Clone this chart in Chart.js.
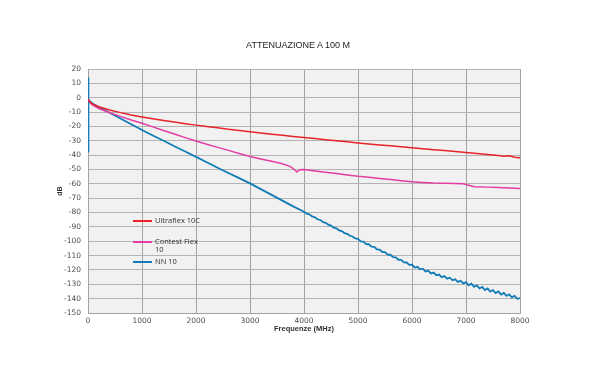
<!DOCTYPE html>
<html>
<head>
<meta charset="utf-8">
<script src="https://cdn.jsdelivr.net/npm/chart.js@4/dist/chart.umd.min.js"></script>
<style>
  body { margin: 0; background: #fff; }
  #wrap { position: relative; width: 600px; height: 378px; }
  #title {
    position: absolute; left: 0; width: 596px; top: 40px; text-align: center;
    font: 9px "Liberation Sans", Arial, sans-serif; color: #222;
  }
  #legend {
    position: absolute; left: 133px; top: 216px;
    font: 7.5px "Open Sans", sans-serif; color: #333; line-height: 8px;
  }
  .item { position: relative; padding-left: 22px; margin-bottom: 4px; }
  .item span { position: absolute; left: 0; top: 4px; width: 19px; height: 2px; }
</style>
</head>
<body>
<div id="wrap">
  <canvas id="chart" width="600" height="378"></canvas>
  <div id="title">ATTENUAZIONE A 100 M</div>
  <div id="legend"></div>
</div>
<script>
// Attenuation curves (dB vs MHz)
const redLabel = 'Ultraflex 10C';
const redFreq = [0, 50, 100, 200, 400, 600, 800, 1000, 1200, 1400, 1600, 1800, 2000, 2200, 2400, 2600, 2800, 3000,
    3200, 3400, 3600, 3800, 4000, 4200, 4400, 4600, 4800, 5000, 5200, 5400, 5600, 5800, 6000, 6200, 6400, 6600,
    6800, 7000, 7200, 7400, 7600, 7700, 7800, 7900, 8000];
const redValues = [-1, -3.6, -4.7, -6.3, -8.6, -10.4, -12.0, -13.4, -14.7, -15.9, -17.0, -18.1, -19.1, -20.1, -21.0,
    -22.0, -22.8, -23.7, -24.6, -25.4, -26.2, -27.0, -27.8, -28.5, -29.3, -30.0, -30.7, -31.5, -32.2, -32.9, -33.5,
    -34.2, -34.9, -35.5, -36.2, -36.8, -37.5, -38.1, -38.8, -39.5, -40.2, -40.8, -40.4, -41.5, -41.8];

const pinkLabel = 'Contest Flex 10';
const pinkFreq = [0, 50, 100, 200, 400, 600, 800, 1000, 1200, 1400, 1600, 1800, 2000, 2200, 2400, 2600, 2800, 3000,
    3200, 3400, 3600, 3750, 3820, 3870, 3920, 4000, 4200, 4400, 4600, 4800, 5000, 5200, 5400, 5600, 5800, 6000,
    6200, 6400, 6600, 6800, 6950, 7050, 7150, 7400, 7600, 7800, 8000];
const pinkValues = [-1, -4, -5.5, -7.5, -10.5, -13, -15.5, -17.8, -20.3, -22.8, -25.3, -27.8, -30.2, -32.4, -34.6,
    -36.7, -38.9, -41, -42.7, -44.3, -46, -48, -50, -51.8, -50.2, -50, -51, -52, -52.8, -53.8, -54.8, -55.5, -56.3,
    -57, -57.8, -58.5, -59, -59.4, -59.6, -59.8, -60, -61, -62, -62.3, -62.6, -62.9, -63.2];

const blueLabel = 'NN 10';
const blueFreq = [0, 5, 10, 50, 100, 200, 400, 600, 800, 1000, 1200, 1400, 1600, 1800, 2000, 2200, 2400, 2600, 2800,
    3000, 3200, 3400, 3600, 3800,
    4000, 4050, 4100, 4150, 4200, 4250, 4300, 4350, 4400, 4450, 4500, 4550, 4600, 4650, 4700, 4750, 4800, 4850, 4900, 4950,
    5000, 5050, 5100, 5150, 5200, 5250, 5300, 5350, 5400, 5450, 5500, 5550, 5600, 5650, 5700, 5750, 5800, 5850, 5900, 5950,
    6000, 6050, 6100, 6150, 6200, 6250, 6300, 6350, 6400, 6450, 6500, 6550, 6600, 6650, 6700, 6750, 6800, 6850, 6900, 6950,
    7000, 7050, 7100, 7150, 7200, 7250, 7300, 7350, 7400, 7450, 7500, 7550, 7600, 7650, 7700, 7750, 7800, 7850, 7900, 7950,
    8000];
const blueValues = [14, -38, -1.5, -3, -4.5, -6.5, -10.5, -14.5, -18.5, -22.5, -26.3, -30, -33.8, -37.5, -41.2, -45,
    -48.8, -52.5, -56, -59.7, -63.7, -67.7, -71.7, -75.7,
    -79.4, -80.8, -81.3, -82.7, -83.3, -84.7, -85.2, -86.6, -87.2, -88.5, -89.1, -90.5, -91.0, -92.4, -92.9, -94.3,
    -94.8, -96.2, -96.7, -98.1,
    -98.4, -100.1, -100.2, -102.0, -102.1, -103.8, -103.9, -105.6, -105.8, -107.5, -107.6, -109.3, -109.4, -111.1,
    -111.2, -112.9, -113.0, -114.7, -114.8, -116.5,
    -116.4, -118.3, -117.8, -119.6, -119.1, -121.0, -120.5, -122.4, -121.8, -123.7, -123.2, -125.0, -124.3, -126.1,
    -125.4, -127.2, -126.5, -128.3, -127.6, -129.4,
    -128.5, -130.7, -129.6, -131.8, -130.7, -132.9, -131.8, -134.0, -132.9, -135.1, -134.0, -136.1, -135.0, -137.1,
    -136.0, -138.1, -137.0, -139.1, -138.0, -140.1,
    -139.6];

const colors = ['#e8232a', '#e43da4', '#117bb6'];

function toPoints(freq, values) {
    return freq.map((f, i) => ({ x: f, y: values[i] }));
}

const plotBg = {
    id: 'plotBg',
    beforeDraw(chart) {
        const { ctx, chartArea: a } = chart;
        ctx.save();
        ctx.fillStyle = '#f1f1f1';
        ctx.fillRect(a.left, a.top, a.right - a.left, a.bottom - a.top);
        ctx.restore();
    }
};

const tickFont = { family: 'DejaVu Sans', size: 7.5 };

new Chart(document.getElementById('chart').getContext('2d'), {
    type: 'line',
    data: {
        datasets: [
            { label: redLabel, data: toPoints(redFreq, redValues), borderColor: colors[0], borderWidth: 1.5 },
            { label: pinkLabel, data: toPoints(pinkFreq, pinkValues), borderColor: colors[1], borderWidth: 1.5 },
            { label: blueLabel, data: toPoints(blueFreq, blueValues), borderColor: colors[2], borderWidth: 1.8 }
        ]
    },
    options: {
        responsive: false,
        animation: false,
        parsing: false,
        elements: { point: { radius: 0 }, line: { tension: 0 } },
        layout: { padding: { left: 52, right: 80, top: 69, bottom: 43 } },
        plugins: { legend: { display: false }, tooltip: { enabled: false } },
        scales: {
            x: {
                type: 'linear', min: 0, max: 8000,
                ticks: { stepSize: 1000, color: '#4d4d4d', font: tickFont, padding: 4, maxRotation: 0,
                    callback: v => String(v) },
                grid: { color: '#a3a3a3', drawTicks: false },
                border: { color: '#a3a3a3' },
                title: { display: true, text: 'Frequenze (MHz)', color: '#333',
                    font: { family: 'Liberation Sans', size: 7.5, weight: 'bold' }, padding: { top: 0, bottom: 2 } },
                afterFit(scale) { scale.height = 22; }
            },
            y: {
                min: -150, max: 20,
                ticks: { stepSize: 10, color: '#4d4d4d', font: tickFont, padding: 7 },
                grid: { color: '#b3b3b3', drawTicks: false },
                border: { color: '#a3a3a3' },
                title: { display: true, text: 'dB', color: '#333',
                    font: { family: 'Liberation Sans', size: 7, weight: 'bold' } },
                afterFit(scale) { scale.width = 36; }
            }
        }
    },
    plugins: [plotBg]
});

// legend inside the plot
const legend = document.getElementById('legend');
[['Ultraflex 10C', colors[0]], ['Contest Flex<br>10', colors[1]], ['NN 10', colors[2]]].forEach(([txt, c], i) => {
    const div = document.createElement('div');
    div.className = 'item';
    div.style.marginBottom = i === 0 ? '13px' : '4px';
    div.innerHTML = `<span style="background:${c}"></span>${txt}`;
    legend.appendChild(div);
});
</script>
</body>
</html>
